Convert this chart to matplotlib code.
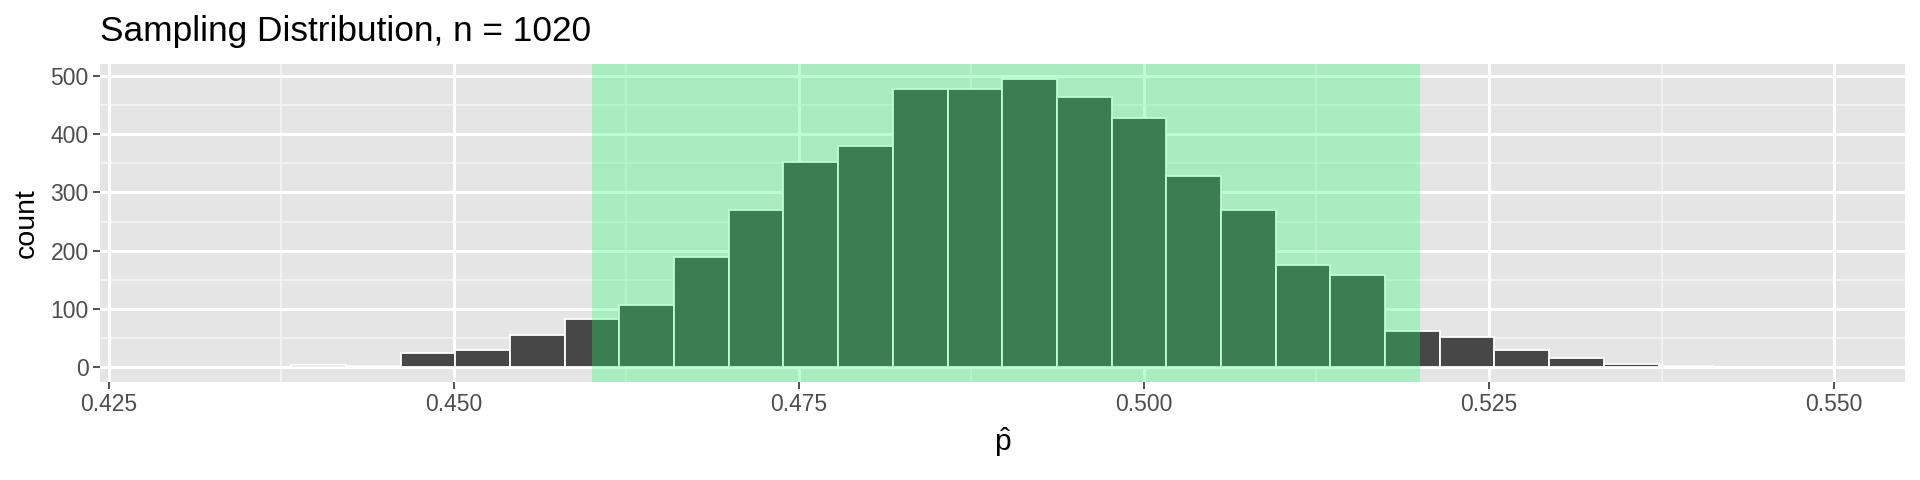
#!/usr/bin/env python

""" Histogram of the sampling distribution of p-hat, with the middle
region highlighted, drawn in a ggplot-like style. """

import numpy as np
import matplotlib
matplotlib.use("Agg")
import matplotlib.pyplot as plt

plt.rcParams['font.family'] = ['Liberation Sans', 'DejaVu Sans']
plt.rcParams['mathtext.fontset'] = 'custom'
plt.rcParams['mathtext.rm'] = 'Liberation Sans'
plt.rcParams['mathtext.it'] = 'Liberation Sans'

# Histogram data
title = "Sampling Distribution, n = 1020"
bin_start = 0.43031
bin_width = 0.003962
counts = [1, 0, 4, 2, 25, 30, 55, 83, 106, 189,
          270, 352, 379, 477, 478, 495, 464, 427, 328, 270,
          176, 158, 62, 51, 29, 15, 6, 2, 1, 1]
shade_lo, shade_hi = 0.46, 0.52
x_ticks = [0.425, 0.450, 0.475, 0.500, 0.525, 0.550]
y_ticks = [0, 100, 200, 300, 400, 500]

edges = bin_start + bin_width * np.arange(len(counts) + 1)

fig = plt.figure(figsize=(19.2, 4.8), dpi=100)
ax = fig.add_axes([0.052, 0.205, 0.940, 0.661])
ax.set_facecolor('#E5E5E5')

# Bars
ax.bar(edges[:-1], counts, width=bin_width, align='edge',
       color='#474747', edgecolor='white', linewidth=1.3, zorder=2)

# Highlighted interval drawn over everything
ax.axvspan(shade_lo, shade_hi, color=(31/255, 1.0, 108/255),
           alpha=0.30, lw=0, zorder=3)

# Limits with ggplot-like 5% expansion
span = edges[-1] - edges[0]
ax.set_xlim(edges[0] - 0.05 * span, edges[-1] + 0.05 * span)
ymax = max(counts)
ax.set_ylim(-0.05 * ymax, 1.05 * ymax)

# Grid
ax.set_xticks(x_ticks)
ax.set_xticklabels(["%.3f" % v for v in x_ticks])
ax.set_yticks(y_ticks)
ax.set_xticks([v + 0.0125 for v in x_ticks[:-1]], minor=True)
ax.set_yticks([v + 50 for v in y_ticks[:-1]], minor=True)
ax.grid(which='major', color='white', linewidth=2.2, zorder=1)
ax.grid(which='minor', color='#F7F7F7', linewidth=1.1, zorder=1)
ax.set_axisbelow(True)

for s in ax.spines.values():
    s.set_visible(False)

ax.tick_params(which='major', length=5, width=1.2, color='#333333',
               labelsize=16.5, labelcolor='#4D4D4D', pad=3)
ax.tick_params(which='minor', length=0)

ax.set_ylabel("count", fontsize=20.5, labelpad=8)
ax.set_xlabel(r"$\hat{\mathrm{p}}$", fontsize=21.5, labelpad=7)
ax.set_title(title, loc='left', fontsize=25.4, pad=17)

fig.savefig("out.png", dpi=100)
